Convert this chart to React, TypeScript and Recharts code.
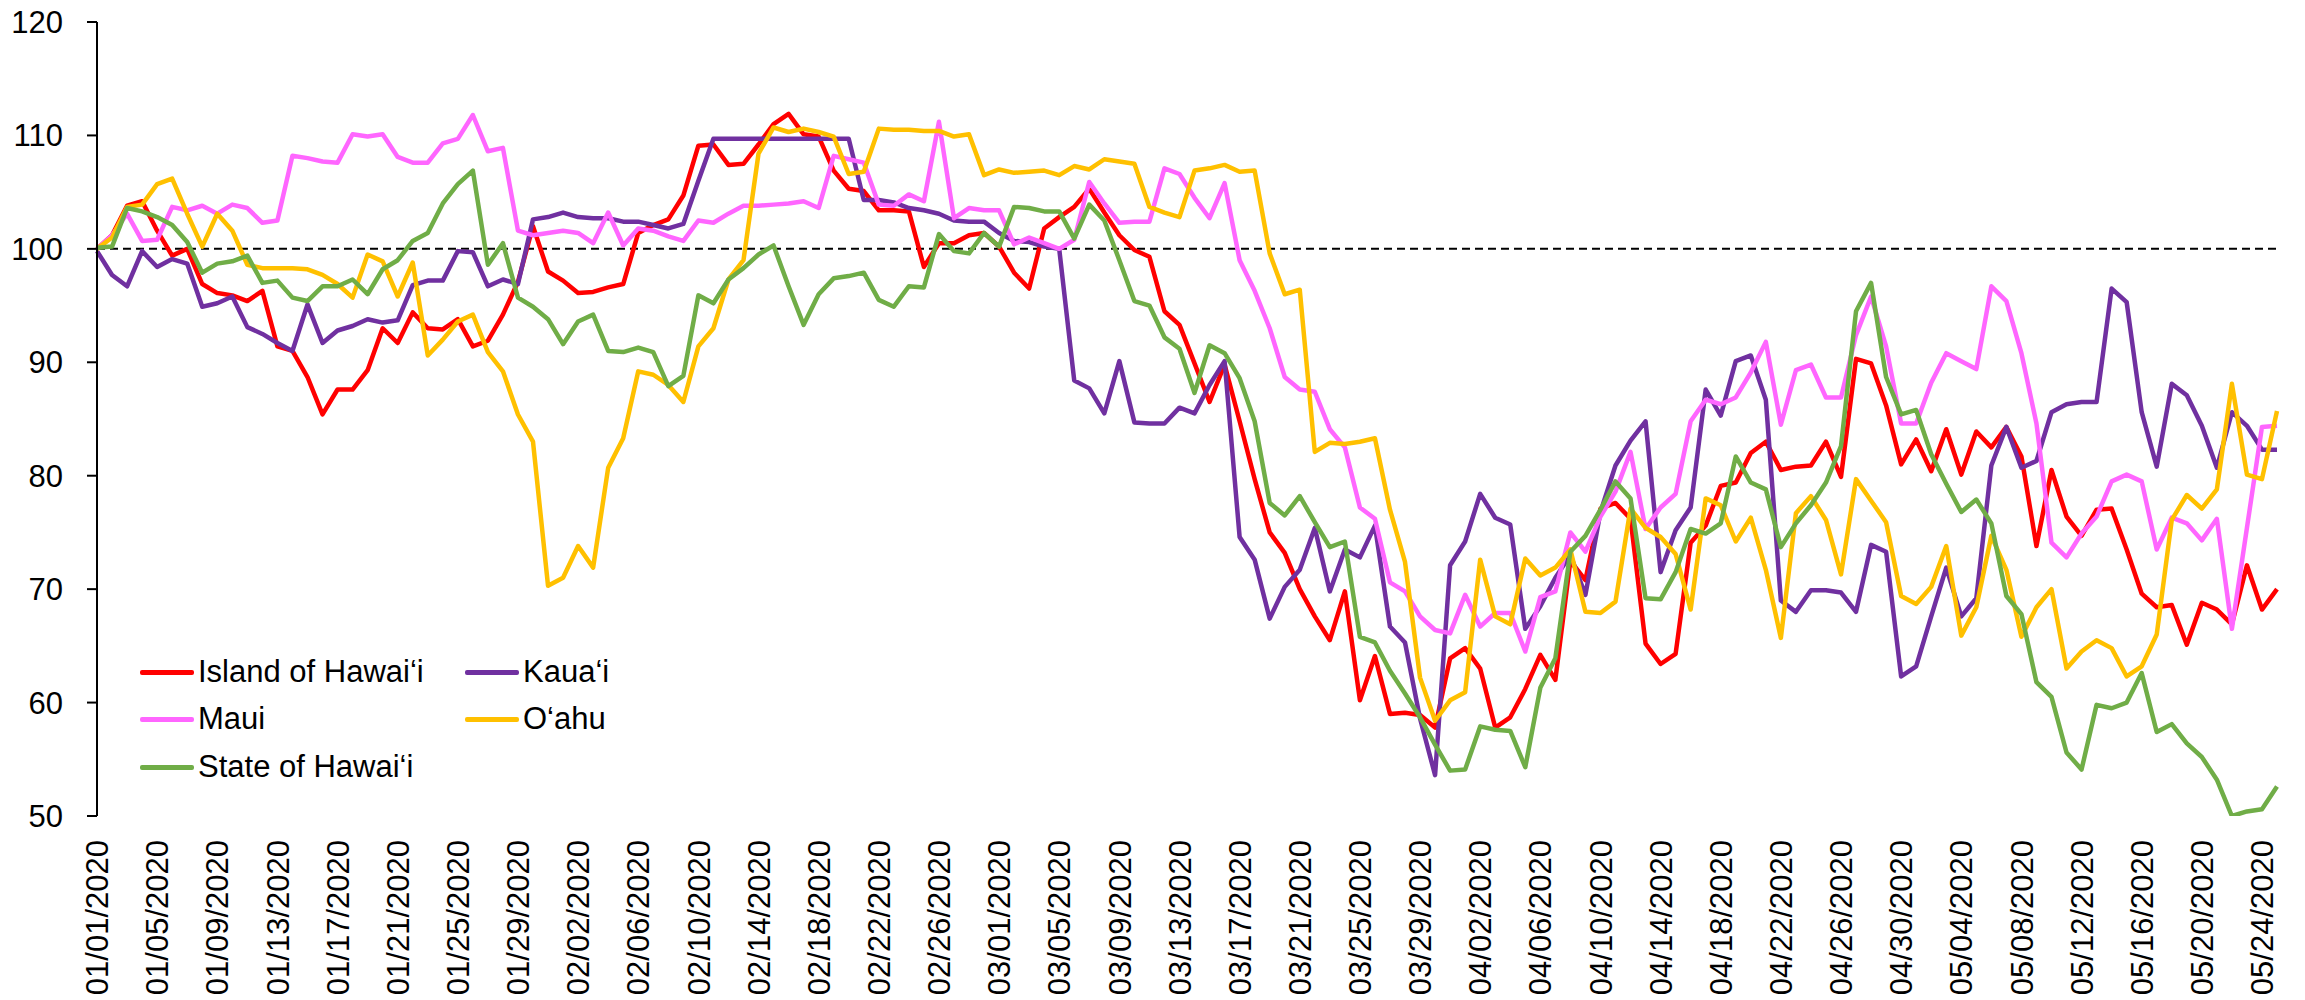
import React from 'react';
import { LineChart, Line, XAxis, YAxis, ReferenceLine, Legend } from 'recharts';

// ---------- data ----------
const START_YEAR = 2020;
const MONTH_LENGTHS = [31, 29, 31, 30, 31];
const N_DAYS = 146; // 01/01/2020 .. 05/25/2020

const islandOfHawaii = [
  100, 101.2, 103.8, 104.2, 101.6, 99.4, 100.0, 96.9, 96.1, 95.9,
  95.4, 96.3, 91.4, 91.0, 88.7, 85.4, 87.6, 87.6, 89.3, 93.0,
  91.7, 94.4, 93.0, 92.9, 93.8, 91.4, 91.9, 94.2, 97.1, 102.0,
  98.0, 97.2, 96.1, 96.2, 96.6, 96.9, 101.4, 102.1, 102.6, 104.7,
  109.1, 109.2, 107.4, 107.5, 109.2, 111.0, 111.9, 110.1, 109.9, 106.9,
  105.3, 105.1, 103.4, 103.4, 103.3, 98.4, 100.5, 100.5, 101.2, 101.4,
  100.2, 97.9, 96.5, 101.8, 102.8, 103.7, 105.3, 103.2, 101.2, 99.9,
  99.3, 94.5, 93.3, 89.9, 86.5, 89.8, 84.8, 79.7, 75.0, 73.2,
  70.0, 67.6, 65.5, 69.8, 60.2, 64.1, 59.0, 59.1, 58.9, 57.8,
  63.9, 64.8, 63.0, 57.8, 58.7, 61.2, 64.2, 62.0, 72.5, 70.8,
  77.1, 77.6, 76.2, 65.2, 63.4, 64.3, 74.1, 75.6, 79.1, 79.4,
  82.0, 83.0, 80.5, 80.8, 80.9, 83.0, 79.9, 90.3, 89.9, 86.2,
  81.0, 83.2, 80.4, 84.1, 80.1, 83.9, 82.5, 84.3, 81.7, 73.8,
  80.5, 76.4, 74.7, 77.0, 77.1, 73.5, 69.6, 68.4, 68.6, 65.1,
  68.8, 68.2, 66.9, 72.1, 68.2, 70.0,
];

const kauai = [
  99.8, 97.7, 96.7, 99.8, 98.4, 99.1, 98.7, 94.9, 95.2, 95.8,
  93.1, 92.5, 91.7, 91.0, 95.1, 91.7, 92.8, 93.2, 93.8, 93.5,
  93.7, 96.8, 97.2, 97.2, 99.8, 99.7, 96.7, 97.3, 96.9, 102.6,
  102.8, 103.2, 102.8, 102.7, 102.7, 102.4, 102.4, 102.1, 101.8, 102.2,
  106.0, 109.7, 109.7, 109.7, 109.7, 109.7, 109.7, 109.7, 109.7, 109.7,
  109.7, 104.3, 104.3, 104.1, 103.6, 103.4, 103.1, 102.5, 102.4, 102.4,
  101.4, 100.7, 100.6, 100.2, 100.0, 88.4, 87.7, 85.5, 90.1, 84.7,
  84.6, 84.6, 86.0, 85.5, 88.0, 90.1, 74.6, 72.6, 67.4, 70.2,
  71.7, 75.4, 69.8, 73.5, 72.8, 75.6, 66.7, 65.3, 58.6, 53.6,
  72.1, 74.2, 78.4, 76.3, 75.7, 66.5, 68.5, 71.0, 73.0, 69.5,
  76.8, 80.9, 83.1, 84.8, 71.5, 75.2, 77.2, 87.6, 85.3, 90.1,
  90.6, 86.7, 69.0, 68.0, 69.9, 69.9, 69.7, 68.0, 73.9, 73.3,
  62.3, 63.2, 67.6, 71.9, 67.6, 69.2, 80.9, 84.3, 80.7, 81.3,
  85.6, 86.3, 86.5, 86.5, 96.5, 95.3, 85.6, 80.8, 88.1, 87.1,
  84.4, 80.7, 85.6, 84.4, 82.3, 82.3,
];

const maui = [
  100, 101.2, 103.1, 100.7, 100.8, 103.7, 103.4, 103.8, 103.1, 103.9,
  103.6, 102.3, 102.5, 108.2, 108.0, 107.7, 107.6, 110.1, 109.9, 110.1,
  108.1, 107.6, 107.6, 109.3, 109.7, 111.8, 108.6, 108.9, 101.6, 101.2,
  101.4, 101.6, 101.4, 100.5, 103.2, 100.3, 101.8, 101.6, 101.1, 100.7,
  102.5, 102.3, 103.1, 103.8, 103.8, 103.9, 104.0, 104.2, 103.6, 108.2,
  107.9, 107.6, 103.9, 103.8, 104.8, 104.2, 111.2, 102.7, 103.6, 103.4,
  103.4, 100.4, 101.0, 100.5, 100.0, 100.8, 105.9, 104.0, 102.3, 102.4,
  102.4, 107.1, 106.6, 104.5, 102.7, 105.8, 99.0, 96.3, 93.0, 88.7,
  87.6, 87.4, 84.1, 82.5, 77.2, 76.2, 70.6, 69.8, 67.6, 66.4,
  66.1, 69.5, 66.7, 67.9, 67.9, 64.5, 69.3, 69.8, 75.0, 73.3,
  76.4, 78.6, 82.1, 75.3, 77.2, 78.4, 84.8, 86.7, 86.3, 86.9,
  89.1, 91.8, 84.5, 89.3, 89.8, 86.9, 86.9, 92.4, 95.8, 91.4,
  84.6, 84.6, 88.2, 90.8, 90.1, 89.4, 96.7, 95.4, 90.8, 84.6,
  74.1, 72.8, 74.9, 76.4, 79.5, 80.1, 79.5, 73.5, 76.3, 75.8,
  74.3, 76.2, 66.5, 75.4, 84.3, 84.4,
];

const oahu = [
  100, 101.0, 103.7, 103.9, 105.7, 106.2, 103.1, 100.2, 103.1, 101.6,
  98.6, 98.3, 98.3, 98.3, 98.2, 97.7, 96.9, 95.7, 99.5, 98.9,
  95.8, 98.8, 90.6, 92.0, 93.6, 94.2, 90.9, 89.2, 85.4, 83.0,
  70.3, 71.0, 73.8, 71.9, 80.7, 83.3, 89.2, 88.9, 88.0, 86.5,
  91.4, 93.0, 97.3, 99.0, 108.4, 110.7, 110.3, 110.6, 110.3, 109.9,
  106.6, 106.8, 110.6, 110.5, 110.5, 110.4, 110.4, 109.9, 110.1, 106.5,
  107.0, 106.7, 106.8, 106.9, 106.5, 107.3, 107.0, 107.9, 107.7, 107.5,
  103.7, 103.2, 102.8, 106.9, 107.1, 107.4, 106.8, 106.9, 99.6, 96.0,
  96.4, 82.1, 82.9, 82.8, 83.0, 83.3, 77.0, 72.4, 62.2, 58.4,
  60.2, 60.9, 72.6, 67.6, 66.9, 72.7, 71.2, 71.9, 73.5, 68.0,
  67.9, 68.9, 77.1, 75.4, 74.6, 73.1, 68.2, 78.0, 77.4, 74.2,
  76.3, 71.7, 65.7, 76.7, 78.2, 76.1, 71.3, 79.7, 77.8, 75.9,
  69.4, 68.7, 70.2, 73.8, 65.9, 68.4, 74.7, 71.7, 65.8, 68.4,
  70.0, 63.0, 64.5, 65.5, 64.8, 62.3, 63.2, 66.0, 76.1, 78.3,
  77.1, 78.8, 88.1, 80.1, 79.7, 85.7,
];

const stateOfHawaii = [
  100.1, 100.2, 103.6, 103.3, 102.8, 102.1, 100.6, 97.9, 98.7, 98.9,
  99.4, 97.0, 97.2, 95.7, 95.4, 96.7, 96.7, 97.3, 96.0, 98.2,
  99.0, 100.7, 101.4, 104.0, 105.7, 106.9, 98.6, 100.5, 95.7, 94.9,
  93.8, 91.6, 93.6, 94.2, 91.0, 90.9, 91.3, 90.9, 87.9, 88.8,
  95.9, 95.2, 97.3, 98.3, 99.5, 100.3, 96.7, 93.3, 96.0, 97.4,
  97.6, 97.9, 95.5, 94.9, 96.7, 96.6, 101.3, 99.8, 99.6, 101.4,
  100.2, 103.7, 103.6, 103.3, 103.3, 100.9, 103.9, 102.5, 99.0, 95.4,
  95.0, 92.2, 91.2, 87.3, 91.5, 90.8, 88.6, 84.8, 77.6, 76.5,
  78.2, 75.9, 73.7, 74.2, 65.8, 65.3, 62.8, 60.8, 58.7, 56.3,
  54.0, 54.1, 57.9, 57.6, 57.5, 54.3, 61.3, 63.9, 73.3, 74.7,
  77.0, 79.5, 78.0, 69.2, 69.1, 71.5, 75.3, 74.9, 75.8, 81.7,
  79.4, 78.8, 73.7, 75.8, 77.4, 79.4, 82.6, 94.5, 97.0, 88.7,
  85.4, 85.8, 81.9, 79.3, 76.8, 77.9, 75.8, 69.4, 67.8, 61.8,
  60.5, 55.6, 54.1, 59.8, 59.5, 60.0, 62.6, 57.4, 58.1, 56.4,
  55.2, 53.2, 50.0, 50.4, 50.6, 52.6,
];

const yTicks = [50, 60, 70, 80, 90, 100, 110, 120];

const seriesNames = ['Island of Hawai\u2018i', 'Kaua\u2018i', 'Maui', 'O\u2018ahu', 'State of Hawai\u2018i'];
const seriesColors = ['#FF0000', '#7030A0', '#FF66FF', '#FFC000', '#70AD47'];
const seriesValues = [islandOfHawaii, kauai, maui, oahu, stateOfHawaii];
const seriesKeys = ['s0', 's1', 's2', 's3', 's4'];

// category labels (one per day)
const pad2 = (n: number) => (n < 10 ? '0' + n : '' + n);
const dates: string[] = [];
{
  let m = 0;
  let d = 1;
  for (let i = 0; i < N_DAYS; i++) {
    dates.push(`${pad2(m + 1)}/${pad2(d)}/${START_YEAR}`);
    d++;
    if (d > MONTH_LENGTHS[m]) {
      d = 1;
      m++;
    }
  }
}

const rows = dates.map((date, i) => {
  const r: any = { date };
  seriesKeys.forEach((k, j) => {
    r[k] = seriesValues[j][i];
  });
  return r;
});

// ---------- rendering ----------
const FONT = '"Liberation Sans", Arial, Helvetica, sans-serif';
const FS = 31;

const XTick = (props: any) => {
  const { x, y, payload } = props;
  return (
    <g transform={`translate(${x},${y})`}>
      <text
        transform="rotate(-90)"
        x={-24}
        y={0}
        dy="0.36em"
        textAnchor="end"
        fontSize={FS}
        fill="#000"
        fontFamily={FONT}
      >
        {payload.value}
      </text>
    </g>
  );
};

const legendItems = [
  { idx: 0, left: 140, top: 672 },
  { idx: 1, left: 465, top: 672 },
  { idx: 2, left: 140, top: 719 },
  { idx: 3, left: 465, top: 719 },
  { idx: 4, left: 140, top: 767 },
];

const LegendBox = () => (
  <div style={{ position: 'relative', width: 2305, height: 1000, pointerEvents: 'none' }}>
    {legendItems.map((it) => (
      <div
        key={it.idx}
        style={{
          position: 'absolute',
          left: it.left,
          top: it.top - 20,
          height: 40,
          display: 'flex',
          alignItems: 'center',
          whiteSpace: 'nowrap',
        }}
      >
        <div style={{ width: 54, height: 5, background: seriesColors[it.idx], borderRadius: 2 }} />
        <span style={{ marginLeft: 4, fontSize: FS, color: '#000', fontFamily: FONT, lineHeight: '40px' }}>
          {seriesNames[it.idx]}
        </span>
      </div>
    ))}
  </div>
);

export default function App() {
  return (
    <div
      style={{
        position: 'absolute',
        left: 0,
        top: 0,
        width: 2305,
        height: 1000,
        background: '#fff',
        fontFamily: FONT,
      }}
    >
      <LineChart
        width={2305}
        height={1000}
        data={rows}
        margin={{ top: 22, right: 28, left: 0, bottom: 0 }}
      >
        <XAxis
          dataKey="date"
          interval={3}
          axisLine={false}
          tickLine={false}
          tickSize={0}
          tickMargin={0}
          height={184}
          tick={(p: any) => <XTick {...p} />}
        />
        <YAxis
          domain={[50, 120]}
          ticks={yTicks}
          allowDataOverflow
          width={97}
          axisLine={{ stroke: '#000', strokeWidth: 2 }}
          tickLine={{ stroke: '#000', strokeWidth: 2 }}
          tickSize={10}
          tickMargin={24}
          tick={{ fill: '#000', fontSize: FS, fontFamily: FONT }}
        />
        <ReferenceLine y={100} stroke="#000" strokeWidth={2} strokeDasharray="8 5" />
        {seriesKeys.map((k, j) => (
          <Line
            key={k}
            type="linear"
            dataKey={k}
            name={seriesNames[j]}
            stroke={seriesColors[j]}
            strokeWidth={4.5}
            strokeLinejoin="round"
            dot={false}
            activeDot={false}
            isAnimationActive={false}
          />
        ))}
        <Legend
          layout="horizontal"
          verticalAlign="middle"
          align="center"
          wrapperStyle={{ left: 0, top: 0, width: 2305, height: 1000 }}
          content={() => <LegendBox />}
        />
      </LineChart>
    </div>
  );
}
